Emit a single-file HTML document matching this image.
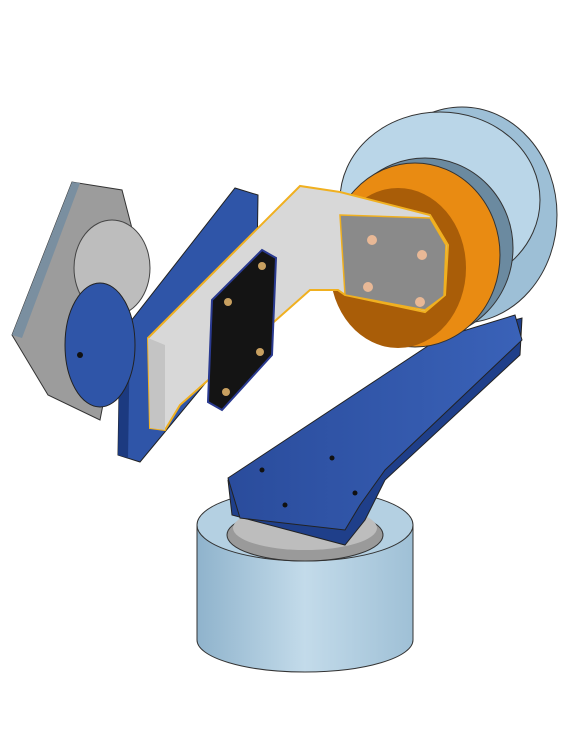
<!DOCTYPE html>
<html><head><meta charset="utf-8"><style>
html,body{margin:0;padding:0;background:#fff;width:561px;height:748px;overflow:hidden}
</style></head><body>
<svg width="561" height="748" viewBox="0 0 561 748">
<defs>
<linearGradient id="cyl" x1="0" x2="1"><stop offset="0" stop-color="#8fb3cc"/><stop offset="0.5" stop-color="#c3dbea"/><stop offset="1" stop-color="#9fc0d6"/></linearGradient>
<linearGradient id="blue" x1="0" x2="1"><stop offset="0" stop-color="#2a4c9c"/><stop offset="1" stop-color="#3a62b8"/></linearGradient>
</defs>
<!-- base cylinder -->
<g>
<path d="M197 525 L197 640 A108 32 0 0 0 413 640 L413 525 Z" fill="url(#cyl)" stroke="#333" stroke-width="1"/>
<ellipse cx="305" cy="525" rx="108" ry="36" fill="#b4d0e2" stroke="#333" stroke-width="1"/>
<ellipse cx="305" cy="535" rx="78" ry="26" fill="#9a9a9a" stroke="#333"/>
<ellipse cx="305" cy="528" rx="72" ry="22" fill="#bdbdbd"/>
</g>
<!-- blue arm -->
<g>
<polygon points="228,480 232,515 345,545 365,520 385,480 520,355 522,318 440,340" fill="#1f3f8a" stroke="#222"/>
<polygon points="228,478 440,338 515,315 522,340 385,470 360,505 345,530 240,518" fill="url(#blue)" stroke="#222"/>
<circle cx="262" cy="470" r="2.5" fill="#111"/><circle cx="332" cy="458" r="2.5" fill="#111"/>
<circle cx="285" cy="505" r="2.5" fill="#111"/><circle cx="355" cy="493" r="2.5" fill="#111"/>
</g>
<!-- right motor cylinder -->
<g>
<ellipse cx="462" cy="215" rx="95" ry="108" fill="#9dbfd6" stroke="#333"/>
<ellipse cx="440" cy="200" rx="100" ry="88" fill="#bad6e8" stroke="#333"/>
<ellipse cx="425" cy="248" rx="88" ry="90" fill="#6b8aa0" stroke="#333"/>
<ellipse cx="415" cy="255" rx="85" ry="92" fill="#e98b12" stroke="#333"/>
<ellipse cx="398" cy="268" rx="68" ry="80" fill="#a95d08"/>
</g>
<!-- left blue plate -->
<g>
<polygon points="118,455 120,335 235,188 258,195 256,322 140,462" fill="#2f55a8" stroke="#222"/>
<polygon points="118,455 120,335 130,330 128,458" fill="#1c3a80"/>
</g>
<!-- camera -->
<g>
<polygon points="12,335 72,182 122,190 135,240 100,420 48,395" fill="#9c9c9c" stroke="#333"/>
<polygon points="12,335 72,182 80,183 22,338" fill="#7a8fa0"/>
<ellipse cx="112" cy="268" rx="38" ry="48" fill="#bdbdbd" stroke="#444"/>
<ellipse cx="100" cy="345" rx="35" ry="62" fill="#2f55a8" stroke="#222"/>
<circle cx="80" cy="355" r="3" fill="#111"/>
</g>
<!-- gray bracket -->
<g>
<polygon points="148,338 300,186 340,192 430,215 448,245 445,295 425,312 345,295 338,290 310,290 180,405 165,430 150,428" fill="#d8d8d8" stroke="#f0b020" stroke-width="2"/>
<polygon points="340,215 430,218 446,245 444,296 425,310 345,295" fill="#8a8a8a" stroke="#f0b020" stroke-width="1.5"/>
<polygon points="148,338 165,345 165,430 150,428" fill="#c4c4c4"/>
<circle cx="372" cy="240" r="5" fill="#e8b896"/><circle cx="422" cy="255" r="5" fill="#e8b896"/>
<circle cx="368" cy="287" r="5" fill="#e8b896"/><circle cx="420" cy="302" r="5" fill="#e8b896"/>
</g>
<!-- pcb -->
<g>
<polygon points="212,300 262,250 276,258 272,355 222,410 208,402" fill="#141414" stroke="#2a3a90" stroke-width="2"/>
<circle cx="228" cy="302" r="4" fill="#c8a060"/><circle cx="262" cy="266" r="4" fill="#c8a060"/>
<circle cx="226" cy="392" r="4" fill="#c8a060"/><circle cx="260" cy="352" r="4" fill="#c8a060"/>
</g>
</svg>
</body></html>
